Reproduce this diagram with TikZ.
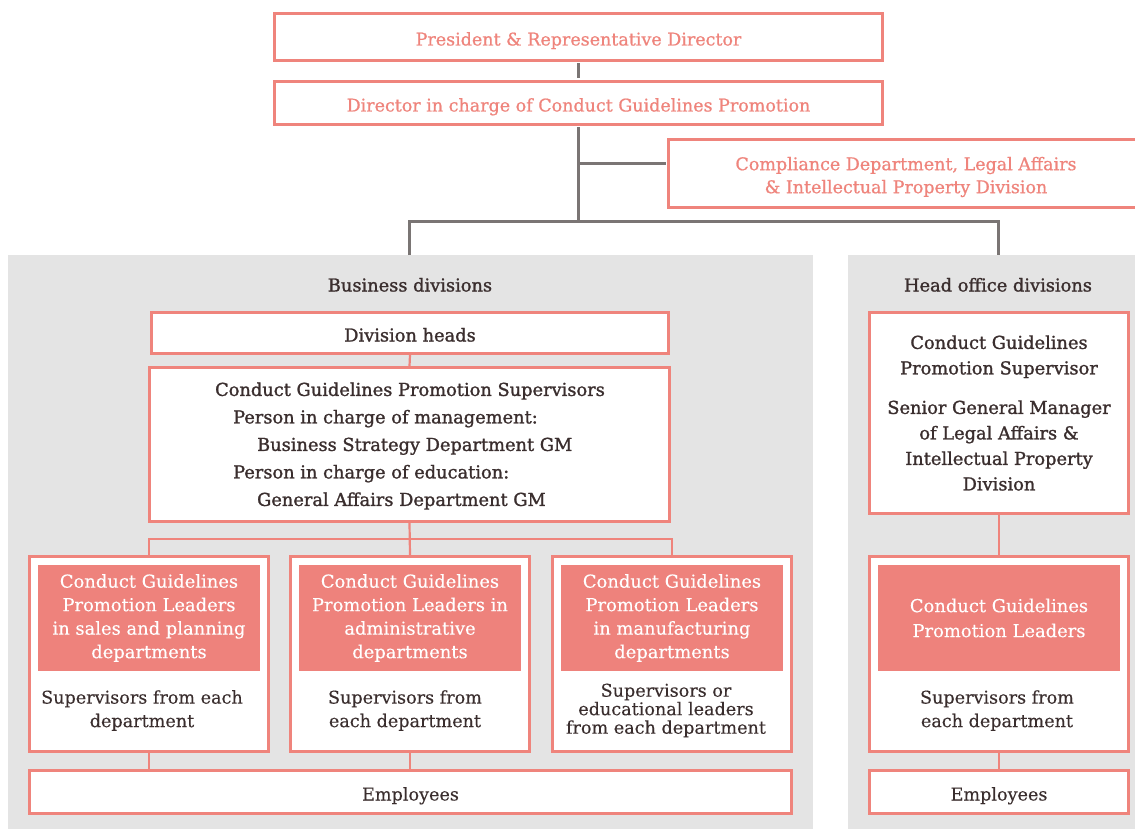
\documentclass[tikz,border=0pt]{standalone}
\usepackage{fontspec}
\setmainfont{DejaVu Serif}
\newfontfamily\medfont[FakeBold=1.3]{DejaVu Serif}
\newfontfamily\topfont[FakeBold=0.8]{DejaVu Serif}
\newfontfamily\regfont[FakeBold=0.2]{DejaVu Serif}
\definecolor{coral}{HTML}{EF847C}
\definecolor{coralfill}{HTML}{EE827C}
\definecolor{ink}{HTML}{3A2E2E}
\definecolor{lineg}{HTML}{7A7574}
\definecolor{panelg}{HTML}{E4E4E4}
\begin{document}
\begin{tikzpicture}[x=1pt,y=-1pt,
  panel/.style={fill=panelg, draw=none, inner sep=0pt, anchor=north west},
  cbox/.style={draw=coral, line width=3pt, fill=white, inner sep=0pt, align=center},
  oneline/.style={text height=17pt, text depth=0pt},
  leadfill/.style={fill=coralfill, draw=none, inner sep=0pt, text=white, align=center,
    font=\regfont\fontsize{17.9}{23.5}\selectfont},
  gline/.style={draw=lineg, line width=3pt},
  cline/.style={draw=coral, line width=2.2pt},
  toptext/.style={text=coral, align=center, inner sep=0pt, font=\topfont\fontsize{17.5}{23}\selectfont},
  medtext/.style={text=ink, align=center, inner sep=0pt, font=\medfont\fontsize{17.8}{25.5}\selectfont},
  regtext/.style={text=ink, align=center, inner sep=0pt, font=\regfont\fontsize{17.6}{23.5}\selectfont},
]
\useasboundingbox (0,0) rectangle (1135,829);
\fill[white] (0,0) rectangle (1135,829);

% panels
\node[panel, minimum width=805pt, minimum height=574pt] (bizpanel) at (8,255) {};
\node[panel, minimum width=287pt, minimum height=574pt] (hopanel) at (848,255) {};

% top boxes
\node[cbox, toptext, oneline, minimum width=608pt, minimum height=47pt] (pres) at (578.5,37) {President \& Representative Director};
\node[cbox, toptext, oneline, minimum width=608pt, minimum height=43pt] (dir) at (578.5,103) {Director in charge of Conduct Guidelines Promotion};
\node[cbox, minimum width=470pt, minimum height=68pt] (comp) at (903.5,173.5) {};
\node[toptext] (comptext) at (906,177) {Compliance Department, Legal Affairs\\\& Intellectual Property Division};

% gray connectors
\coordinate (jc) at (578.5,164);
\coordinate (jb) at (578.5,222);
\coordinate (bl) at (409,222);
\coordinate (br) at (998,222);
\draw[gline, shorten <=1.5pt, shorten >=1.5pt] (pres.south) -- (dir.north);
\draw[gline, shorten <=1.5pt] (dir.south) -- (jb);
\draw[gline, shorten >=1.5pt] (jc) -- (jc -| comp.west);
\draw[gline] (bizpanel.north -| bl) -- (bl) -- (br) -- (hopanel.north -| br);

% business divisions
\node[medtext, oneline] (bizlabel) at (410,283) {Business divisions};
\node[cbox, medtext, oneline, minimum width=517pt, minimum height=41pt] (divheads) at (410,333) {Division heads};
\node[cbox, minimum width=520pt, minimum height=154pt] (sup) at (409.5,444.5) {};
\node[medtext, align=left, font=\medfont\fontsize{17.8}{27.5}\selectfont] (suptext) at (410,446)
  {Conduct Guidelines Promotion Supervisors\\
   \hspace*{18pt}Person in charge of management:\\
   \hspace*{42pt}Business Strategy Department GM\\
   \hspace*{18pt}Person in charge of education:\\
   \hspace*{42pt}General Affairs Department GM};

\node[cbox, minimum width=239pt, minimum height=195pt] (lead1) at (149,654) {};
\node[cbox, minimum width=239pt, minimum height=195pt] (lead2) at (410,654) {};
\node[cbox, minimum width=239pt, minimum height=195pt] (lead3) at (672,654) {};
\node[leadfill, minimum width=222pt, minimum height=106pt] (in1) at (149,618)
  {Conduct Guidelines\\Promotion Leaders\\in sales and planning\\departments};
\node[leadfill, minimum width=222pt, minimum height=106pt] (in2) at (410,618)
  {Conduct Guidelines\\Promotion Leaders in\\administrative\\departments};
\node[leadfill, minimum width=222pt, minimum height=106pt] (in3) at (672,618)
  {Conduct Guidelines\\Promotion Leaders\\in manufacturing\\departments};
\node[regtext] (sub1) at (142,710.5) {Supervisors from each\\department};
\node[regtext] (sub2) at (405,710.5) {Supervisors from\\each department};
\node[regtext, font=\regfont\fontsize{17.6}{18.5}\selectfont] (sub3) at (666,710.5) {Supervisors or\\educational leaders\\from each department};
\node[cbox, regtext, oneline, minimum width=762pt, minimum height=43pt] (emp) at (410.5,792) {Employees};

\coordinate (hl) at (149,539);
\draw[cline] (divheads.south) -- (sup.north);
\draw[cline] (sup.south) -- (lead2.north);
\draw[cline] (lead1.north) -- (lead1.north |- hl) -- (lead3.north |- hl) -- (lead3.north);
\draw[cline] (lead1.south) -- (lead1.south |- emp.north);
\draw[cline] (lead2.south) -- (lead2.south |- emp.north);

% head office divisions
\node[medtext, oneline] (holabel) at (998,283) {Head office divisions};
\node[cbox, medtext, minimum width=259pt, minimum height=201pt] (rsup) at (999,413)
  {Conduct Guidelines\\Promotion Supervisor\\[14pt]Senior General Manager\\of Legal Affairs \&\\Intellectual Property\\Division};
\node[cbox, minimum width=259pt, minimum height=195pt] (rlead) at (999,654) {};
\node[leadfill, minimum width=242pt, minimum height=106pt, font=\regfont\fontsize{17.9}{25}\selectfont] (rin) at (999,618)
  {Conduct Guidelines\\Promotion Leaders};
\node[regtext] (rsub) at (997,710.5) {Supervisors from\\each department};
\node[cbox, regtext, oneline, minimum width=259pt, minimum height=43pt] (remp) at (999,792) {Employees};
\draw[cline] (rsup.south) -- (rlead.north);
\draw[cline] (rlead.south) -- (remp.north);
\end{tikzpicture}
\end{document}
